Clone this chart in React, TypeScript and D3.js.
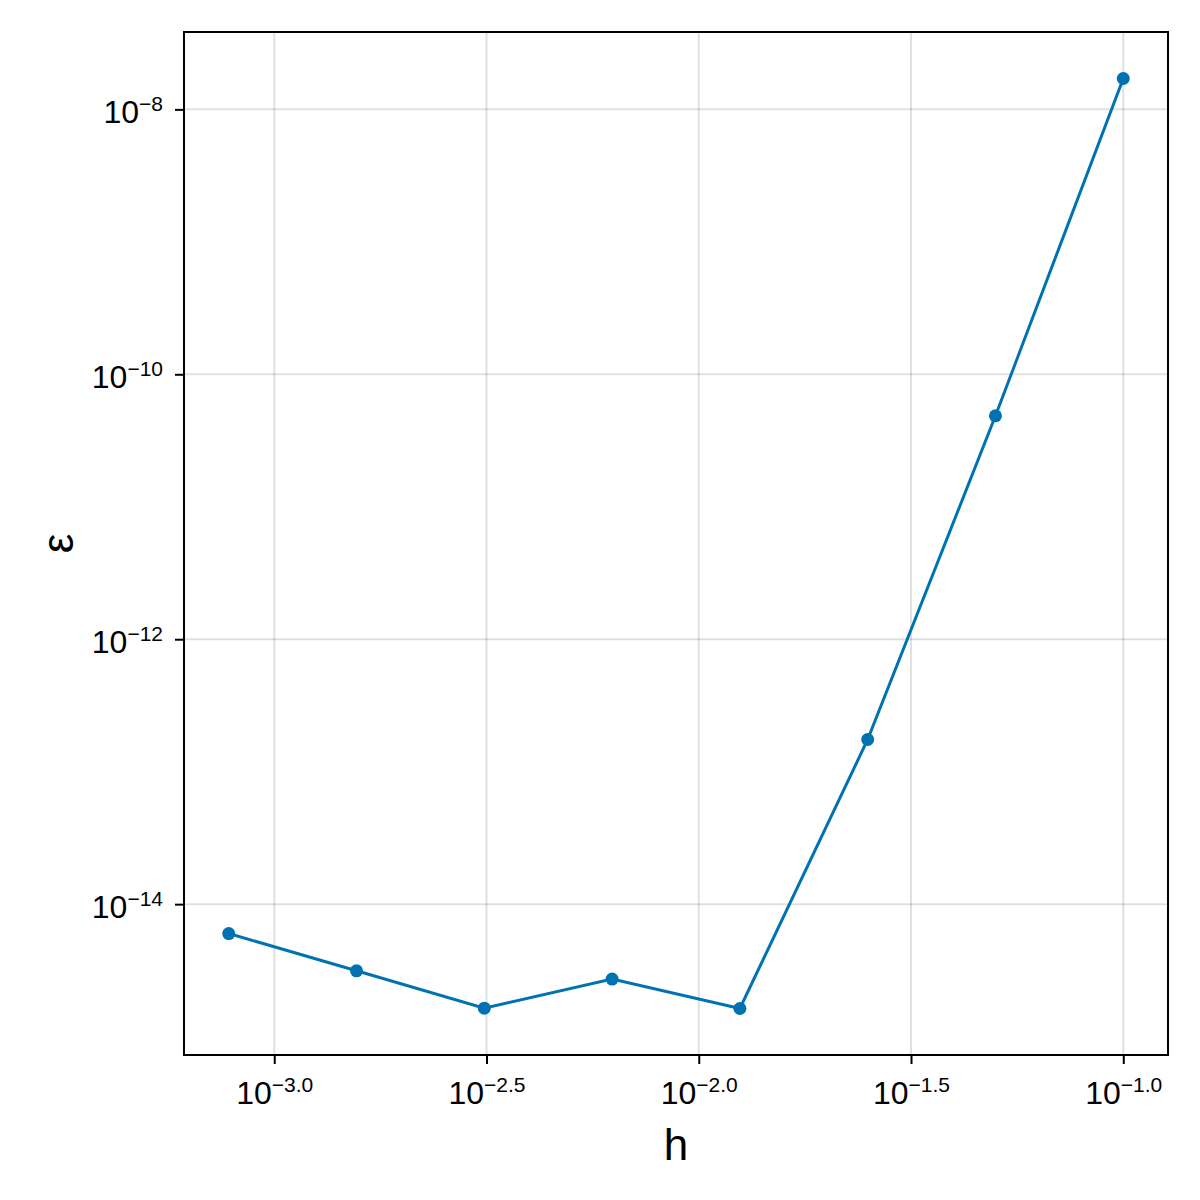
import { useEffect, useRef } from 'react';
import * as d3 from 'd3';

// step size h and error ε
const hValues = [0.00078125, 0.0015625, 0.003125, 0.00625, 0.0125, 0.025, 0.05, 0.1];
const errValues = [6.0e-15, 3.14e-15, 1.64e-15, 2.72e-15, 1.63e-15, 1.75e-13, 4.86e-11, 1.71e-8];
const xTickExponents = [-3.0, -2.5, -2.0, -1.5, -1.0];
const yTickExponents = [-14, -12, -10, -8];
const xLabel = 'h';
const yLabel = 'ε';

const WIDTH = 1200;
const HEIGHT = 1200;
const FONT = '"Liberation Sans", Arial, sans-serif';

export default function App() {
  const svgRef = useRef<SVGSVGElement>(null);

  useEffect(() => {
    if (!svgRef.current) return;
    const svg = d3.select(svgRef.current);
    svg.selectAll('*').remove();

    const margin = { top: 32, right: 32, bottom: 145, left: 184 };
    const innerWidth = WIDTH - margin.left - margin.right;
    const innerHeight = HEIGHT - margin.top - margin.bottom;

    const color = '#0072B2';

    // log-space limits with 5% padding
    const padded = (vals: number[]) => {
      const [lo, hi] = d3.extent(vals.map(Math.log10)) as [number, number];
      const pad = (hi - lo) * 0.05;
      return [Math.pow(10, lo - pad), Math.pow(10, hi + pad)];
    };

    const x = d3.scaleLog().domain(padded(hValues)).range([0, innerWidth]);
    const y = d3.scaleLog().domain(padded(errValues)).range([innerHeight, 0]);

    const g = svg.append('g').attr('transform', `translate(${margin.left},${margin.top})`);

    const xTicks = xTickExponents.map(e => Math.pow(10, e));
    const yTicks = yTickExponents.map(e => Math.pow(10, e));

    // grid
    g.append('g')
      .selectAll('line')
      .data(xTicks)
      .enter().append('line')
      .attr('x1', d => x(d)).attr('x2', d => x(d))
      .attr('y1', 0).attr('y2', innerHeight)
      .attr('stroke', 'rgba(0,0,0,0.12)')
      .attr('stroke-width', 2);

    g.append('g')
      .selectAll('line')
      .data(yTicks)
      .enter().append('line')
      .attr('y1', d => y(d)).attr('y2', d => y(d))
      .attr('x1', 0).attr('x2', innerWidth)
      .attr('stroke', 'rgba(0,0,0,0.12)')
      .attr('stroke-width', 2);

    // axes
    const xAxis = g.append('g')
      .attr('transform', `translate(0,${innerHeight})`)
      .call(d3.axisBottom(x).tickValues(xTicks).tickSize(9).tickSizeOuter(0));

    const yAxis = g.append('g')
      .call(d3.axisLeft(y).tickValues(yTicks).tickSize(9).tickSizeOuter(0));

    [xAxis, yAxis].forEach(ax => {
      ax.select('.domain').remove();
      ax.selectAll('.tick line').attr('stroke', '#000').attr('stroke-width', 2);
    });

    const supFormat = d3.format('.1f');

    xAxis.selectAll('.tick text')
      .attr('y', 49)
      .attr('dy', 0)
      .attr('text-anchor', 'middle')
      .style('font-family', FONT)
      .style('font-size', '32px')
      .style('fill', '#000')
      .each(function (this: any, d: any) {
        const t = d3.select(this);
        t.text('');
        t.append('tspan').text('10');
        t.append('tspan')
          .attr('dy', -12)
          .style('font-size', '21px')
          .text(supFormat(Math.log10(d)));
      });

    yAxis.selectAll('.tick text')
      .attr('x', -21)
      .attr('y', 13)
      .attr('dy', 0)
      .attr('text-anchor', 'end')
      .style('font-family', FONT)
      .style('font-size', '32px')
      .style('fill', '#000')
      .each(function (this: any, d: any) {
        const t = d3.select(this);
        t.text('');
        t.append('tspan').text('10');
        t.append('tspan')
          .attr('dy', -12)
          .style('font-size', '21px')
          .text(d3.format('d')(Math.round(Math.log10(d))));
      });

    // frame
    g.append('rect')
      .attr('x', 0)
      .attr('y', 0)
      .attr('width', innerWidth)
      .attr('height', innerHeight)
      .attr('fill', 'none')
      .attr('stroke', '#000')
      .attr('stroke-width', 2);

    // series
    const data = hValues.map((h, i) => ({ h, e: errValues[i] }));

    const line = d3.line<{ h: number; e: number }>()
      .x(d => x(d.h))
      .y(d => y(d.e));

    g.append('path')
      .datum(data)
      .attr('fill', 'none')
      .attr('stroke', color)
      .attr('stroke-width', 3)
      .attr('d', line);

    g.selectAll('.dot')
      .data(data)
      .enter().append('circle')
      .attr('class', 'dot')
      .attr('cx', d => x(d.h))
      .attr('cy', d => y(d.e))
      .attr('r', 6.5)
      .attr('fill', color);

    // axis labels
    svg.append('text')
      .attr('x', margin.left + innerWidth / 2)
      .attr('y', 1160)
      .attr('text-anchor', 'middle')
      .style('font-family', FONT)
      .style('font-size', '44px')
      .style('fill', '#000')
      .text(xLabel);

    svg.append('text')
      .attr('transform', `translate(73,${margin.top + innerHeight / 2}) rotate(-90)`)
      .attr('text-anchor', 'middle')
      .style('font-family', FONT)
      .style('font-size', '44px')
      .style('fill', '#000')
      .text(yLabel);
  }, []);

  return (
    <div style={{ position: 'absolute', left: 0, top: 0 }}>
      <svg ref={svgRef} width={WIDTH} height={HEIGHT} style={{ display: 'block', background: '#fff' }} />
    </div>
  );
}
